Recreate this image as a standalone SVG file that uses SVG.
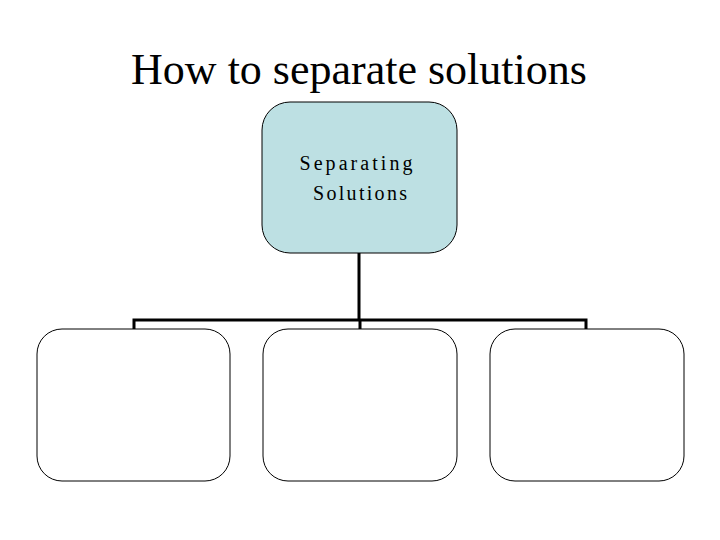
<svg xmlns="http://www.w3.org/2000/svg" width="720" height="540" viewBox="0 0 720 540">
<style>
.n{stroke:#000;stroke-width:1;}
.t{font-family:"Liberation Serif",serif;fill:#000;}
.c{fill:none;stroke:#000;stroke-width:3;}
</style>
<rect width="720" height="540" fill="#fff"/>
<text class="t" x="359" y="84" font-size="44" text-anchor="middle">How to separate solutions</text>
<g id="connectors">
<path class="c" d="M359 253 V320 M134 329 V320 H586 V329 M360 320 V329"/>
</g>
<g id="root"><rect class="n" x="262" y="102" width="195" height="151" rx="28" fill="#bde0e3"/>
<text class="t" x="356" y="170" font-size="20" text-anchor="middle" textLength="113">Separating</text>
<text class="t" x="360" y="200" font-size="20" text-anchor="middle" textLength="94">Solutions</text></g>
<g id="c1"><rect class="n" x="37" y="329" width="193" height="152" rx="25" fill="#fff"/></g>
<g id="c2"><rect class="n" x="263" y="329" width="194" height="152" rx="25" fill="#fff"/></g>
<g id="c3"><rect class="n" x="490" y="329" width="194" height="152" rx="25" fill="#fff"/></g>
</svg>
